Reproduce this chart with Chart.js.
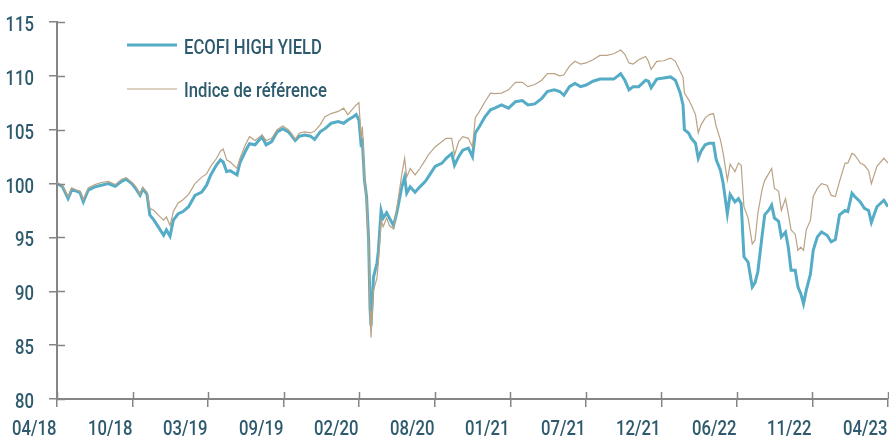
<!DOCTYPE html>
<html>
<head>
<meta charset="utf-8">
<script src="https://cdn.jsdelivr.net/npm/chart.js@4/dist/chart.umd.min.js"></script>
<style>
  html, body { margin: 0; padding: 0; background: #fff; }
  #wrap { position: relative; width: 889px; height: 437px; }
</style>
</head>
<body>
<div id="wrap"><canvas id="perfChart"></canvas></div>
<script>
// months since 04/2018
const months = [
  0, 0.4, 0.8, 1.06, 1.4, 1.66, 1.9, 2.26, 2.74, 3.2, 3.7, 4.2, 4.67, 5.0, 5.4, 5.7, 6.0, 6.2, 6.5, 6.7,
  7.0, 7.3, 7.7, 7.9, 8.16, 8.4, 8.75, 9.1, 9.5, 9.96, 10.45, 10.8, 11.1, 11.5, 11.8, 12.0, 12.25,
  12.5, 13.0, 13.2, 13.6, 13.9, 14.3, 14.8, 15.1, 15.5, 15.9, 16.3, 16.7, 16.9, 17.2, 17.5, 17.9, 18.3, 18.6, 19.0, 19.35,
  19.8, 20.3, 20.7, 21.0, 21.4, 21.6, 21.8, 21.95, 22.05, 22.2, 22.35, 22.5, 22.6, 22.67, 22.85, 23.1, 23.2, 23.4, 23.55, 23.8, 24.0, 24.3,
  24.55, 24.9, 25.1, 25.25, 25.5, 25.85, 26.2, 26.6, 26.8, 27.3, 27.8, 28.1, 28.5, 28.7, 29.0, 29.3, 29.7, 30.0, 30.2, 30.5,
  30.9, 31.3, 31.6, 32.1, 32.6, 33.1, 33.6, 34.0, 34.5, 35.0, 35.4, 35.9, 36.3, 36.6,
  37.0, 37.4, 37.8, 38.2, 38.7, 39.2, 39.7, 40.2, 40.7, 41.0, 41.3, 41.6, 42.0, 42.5, 42.7, 42.9, 43.3, 43.8, 44.3, 44.65,
  45.0, 45.2, 45.3, 45.6, 45.8, 46.1, 46.3, 46.5, 46.8, 47.1, 47.4, 47.6, 47.9, 48.1, 48.4,
  48.6, 48.95, 49.2, 49.4, 49.6, 49.9, 50.2, 50.4, 50.6, 50.9, 51.1, 51.4, 51.6, 51.8, 52.1, 52.3, 52.6, 52.8, 53.0, 53.3,
  53.5, 53.7, 53.9, 54.1, 54.4, 54.6, 54.9, 55.2, 55.6, 55.9, 56.2, 56.5, 56.9, 57.1, 57.4, 57.6, 58.0, 58.3, 58.6, 58.8,
  59.2, 59.7, 60.0
];

const fund = [
  100.0, 99.7, 98.6, 99.4, 99.3, 99.15, 98.3, 99.4, 99.7, 99.85, 100.0, 99.75, 100.2, 100.4, 100.0, 99.5, 98.9, 99.5, 99.0, 97.1,
  96.6, 96.0, 95.2, 95.7, 95.1, 96.6, 97.2, 97.4, 97.85, 98.9, 99.2, 99.85, 100.8, 101.7, 102.2, 102.0, 101.1,
  101.2, 100.8, 101.9, 103.0, 103.7, 103.6, 104.35, 103.6, 103.9, 104.8, 105.1, 104.8, 104.5, 104.0, 104.4, 104.5, 104.4, 104.1, 104.8, 105.1,
  105.6, 105.75, 105.6, 105.9, 106.2, 106.4, 105.9, 103.7, 103.9, 100.3, 98.8, 94.7, 88.5, 86.8, 91.3, 92.6, 93.7, 97.5, 96.8, 97.3, 96.8, 96.1,
  97.4, 99.7, 100.6, 99.1, 99.7, 99.2, 99.7, 100.2, 100.6, 101.6, 101.9, 102.35, 102.8, 101.7, 102.5, 103.1, 103.3, 102.5, 104.7, 105.3,
  106.2, 106.85, 107.0, 107.3, 107.0, 107.6, 107.7, 107.3, 107.4, 107.9, 108.55, 108.7, 108.55, 108.2,
  109.0, 109.3, 109.0, 109.15, 109.5, 109.7, 109.7, 109.7, 110.2, 109.6, 108.7, 109.0, 109.0, 109.6, 109.5, 108.9, 109.7, 109.8, 109.9, 109.6,
  108.4, 107.3, 105.0, 104.7, 104.2, 103.75, 102.35, 103.0, 103.6, 103.75, 103.75, 102.2, 101.25, 100.0, 97.2,
  99.0, 98.3, 98.6, 98.15, 93.2, 92.7, 90.4, 90.8, 91.8, 95.05, 97.1, 97.55, 98.0, 96.8, 96.5, 95.05, 95.5, 94.1, 91.95, 91.95,
  90.4, 89.8, 88.85, 90.1, 91.6, 93.8, 95.05, 95.5, 95.2, 94.6, 94.8, 97.1, 97.5, 97.4, 99.1, 98.8, 98.3, 97.7, 97.5, 96.4,
  97.85, 98.45, 97.85
];

const bench = [
  100.1, 99.8, 98.8, 99.6, 99.4, 99.3, 98.5, 99.6, 99.9, 100.1, 100.2, 99.9, 100.4, 100.55, 100.1, 99.7, 99.0, 99.6, 99.2, 97.7,
  97.5, 97.1, 96.6, 96.9, 96.1, 97.4, 98.2, 98.5, 99.0, 100.0, 100.6, 100.9, 101.6, 102.3, 103.0, 103.2, 102.2,
  102.0, 101.4, 102.3, 103.6, 104.35, 104.0, 104.5, 104.0, 104.2, 105.0, 105.35, 105.0, 104.7, 104.1, 104.7, 104.8, 104.7, 104.85, 105.45, 106.2,
  106.5, 106.7, 107.0, 106.4, 107.0, 107.3, 107.5, 104.2, 105.3, 100.3, 98.5, 94.1, 88.2, 85.7, 90.1, 91.2, 92.6, 96.6, 96.0, 96.8, 96.1, 95.8,
  97.8, 100.9, 102.35, 100.6, 101.4, 100.8, 101.4, 102.2, 102.65, 103.4, 103.9, 104.2, 104.2, 102.65, 103.9, 104.35, 104.2, 103.4, 106.1, 106.7,
  107.6, 108.4, 108.35, 108.4, 108.7, 109.4, 109.4, 109.0, 109.2, 109.6, 110.2, 110.2, 110.0, 110.1,
  110.9, 111.35, 111.1, 111.2, 111.5, 111.9, 111.9, 112.05, 112.4, 112.0, 111.2, 111.1, 111.5, 111.8, 111.35, 110.6, 111.35, 111.4, 111.65, 111.35,
  110.4, 109.9, 108.4, 107.8, 107.3, 106.4, 104.7, 105.45, 106.1, 106.4, 106.5, 105.3, 104.05, 102.8, 100.3,
  101.8, 101.1, 101.9, 101.7, 97.85, 96.8, 94.4, 94.75, 97.2, 99.4, 100.3, 100.95, 101.4, 99.55, 99.3, 97.5, 98.6, 97.2, 95.7, 95.3,
  93.8, 94.1, 93.8, 95.7, 96.6, 98.8, 99.55, 100.0, 99.85, 98.9, 98.8, 100.2, 101.9, 101.9, 102.8, 102.65, 101.9, 101.7, 101.2, 100.0,
  101.6, 102.35, 101.9
];

const tickLabels = ['04/18', '10/18', '03/19', '09/19', '02/20', '08/20', '01/21', '07/21', '12/21', '06/22', '11/22', '04/23'];
const seriesNames = ['ECOFI HIGH YIELD', 'Indice de référence'];

const fontFamily = 'Roboto, "Liberation Sans", sans-serif';
const textColor = '#2d5a6c';
const axisGrey = '#858585';
const fundColor = '#55acc6';
const benchColor = '#baa284';

// the original uses a condensed face: squeeze the text horizontally
function narrowText(ctx, text, x, y, align, k) {
  ctx.save();
  ctx.translate(x, y);
  ctx.scale(k, 1);
  ctx.textAlign = align;
  ctx.textBaseline = 'alphabetic';
  ctx.fillText(text, 0, 0);
  ctx.restore();
}

// tick labels, inner half of the tick marks, legend
const axisMarks = {
  id: 'axisMarks',
  afterDraw(chart) {
    const { ctx, chartArea, scales } = chart;
    ctx.save();
    ctx.font = '500 21px ' + fontFamily;
    const k = 138 / ctx.measureText(seriesNames[0]).width;

    ctx.strokeStyle = axisGrey;
    ctx.lineWidth = 1.5;
    ctx.fillStyle = textColor;
    scales.x.ticks.forEach((t, i) => {
      const px = Math.round(scales.x.getPixelForValue(t.value)) + 0.5;
      ctx.beginPath();
      ctx.moveTo(px, chartArea.bottom);
      ctx.lineTo(px, chartArea.bottom - 7);
      ctx.stroke();
      narrowText(ctx, tickLabels[i], px - 1, 435, 'right', k);
    });
    scales.y.ticks.forEach(t => {
      const py = Math.round(scales.y.getPixelForValue(t.value)) + 0.5;
      ctx.beginPath();
      ctx.moveTo(chartArea.left, py);
      ctx.lineTo(chartArea.left + 8, py);
      ctx.stroke();
      narrowText(ctx, String(t.value), 34, py + 8.5, 'right', k);
    });

    const items = [
      { name: seriesNames[0], color: fundColor, width: 3, y: 45, base: 54 },
      { name: seriesNames[1], color: benchColor, width: 1.2, y: 89, base: 97 }
    ];
    items.forEach(it => {
      ctx.strokeStyle = it.color;
      ctx.lineWidth = it.width;
      ctx.beginPath();
      ctx.moveTo(127, it.y);
      ctx.lineTo(177, it.y);
      ctx.stroke();
      narrowText(ctx, it.name, 184, it.base, 'left', k);
    });
    ctx.restore();
  }
};

const step = 60 / (tickLabels.length - 1);

new Chart(document.getElementById('perfChart'), {
  type: 'line',
  data: {
    datasets: [
      {
        label: seriesNames[1],
        data: months.map((m, i) => ({ x: m, y: bench[i] })),
        borderColor: benchColor,
        borderWidth: 1.2,
        pointRadius: 0,
        tension: 0
      },
      {
        label: seriesNames[0],
        data: months.map((m, i) => ({ x: m, y: fund[i] })),
        borderColor: fundColor,
        borderWidth: 3,
        pointRadius: 0,
        tension: 0
      }
    ]
  },
  options: {
    responsive: true,
    maintainAspectRatio: false,
    animation: false,
    layout: { padding: { top: 22, right: 1, left: 0, bottom: 0 } },
    plugins: {
      legend: { display: false },
      tooltip: { enabled: false }
    },
    scales: {
      x: {
        type: 'linear',
        min: 0,
        max: 60,
        afterBuildTicks: scale => {
          scale.ticks = tickLabels.map((_, i) => ({ value: i * step }));
        },
        afterFit: scale => { scale.height = 38; },
        border: { color: axisGrey, width: 2 },
        grid: { drawOnChartArea: false, tickLength: 8, color: axisGrey, lineWidth: 1.5 },
        ticks: { display: false }
      },
      y: {
        min: 80,
        max: 115,
        afterFit: scale => { scale.width = 57; },
        border: { color: axisGrey, width: 2 },
        grid: { drawOnChartArea: false, tickLength: 8, color: axisGrey, lineWidth: 1.5 },
        ticks: { display: false, stepSize: 5 }
      }
    }
  },
  plugins: [axisMarks]
});
</script>
</body>
</html>
